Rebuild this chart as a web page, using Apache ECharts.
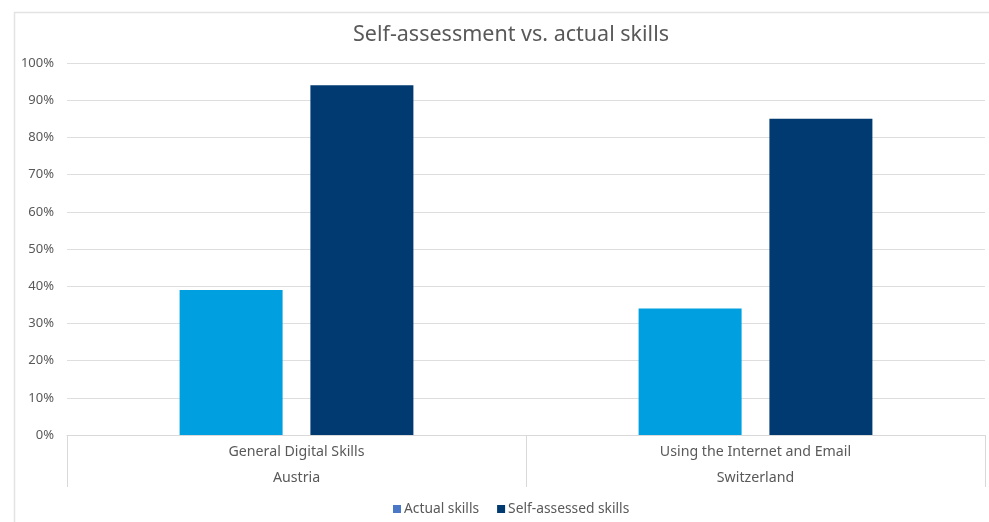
<!DOCTYPE html>
<html>
<head>
<meta charset="utf-8">
<script src="https://cdn.jsdelivr.net/npm/echarts@6/dist/echarts.min.js"></script>
<style>
html,body{margin:0;padding:0;background:#fff;}
#chart{width:989px;height:522px;}
</style>
</head>
<body>
<div id="chart"></div>
<script>
var skills = ['General Digital Skills', 'Using the Internet and Email'];
var countries = ['Austria', 'Switzerland'];
var actualSkills = [39, 34];
var selfAssessed = [94, 85];
var yTicks = [0, 10, 20, 30, 40, 50, 60, 70, 80, 90, 100];

var categories = skills.map(function (s, i) { return s + '\n' + countries[i]; });
var FONT = 'Noto Sans';
var chart = echarts.init(document.getElementById('chart'), null, {renderer: 'canvas'});
chart.setOption({
  backgroundColor: '#ffffff',
  animation: false,
  textStyle: {fontFamily: FONT},
  graphic: [{
    type: 'rect', left: 12, top: 10, silent: true,
    shape: {width: 990, height: 530},
    style: {fill: 'none', stroke: '#e3e3e3', lineWidth: 1.5}
  }],
  title: {
    text: 'Self-assessment vs. actual skills',
    left: 506, top: 19, textAlign: 'center',
    textStyle: {fontFamily: FONT, fontSize: 21.5, fontWeight: 'normal', color: '#595959'}
  },
  legend: {
    left: 388, top: 497,
    itemWidth: 8, itemHeight: 8, itemGap: 18,
    icon: 'rect',
    textStyle: {fontFamily: FONT, fontSize: 13.8, color: '#595959', padding: [0, 0, 0, -2]},
    data: [
      {name: 'Actual skills', itemStyle: {color: '#4a78c6'}},
      {name: 'Self-assessed skills', itemStyle: {color: '#003a70'}}
    ]
  },
  grid: {left: 67, right: 4, top: 63, bottom: 87, containLabel: false},
  xAxis: {
    type: 'category',
    data: categories,
    axisLine: {lineStyle: {color: '#d9d9d9', width: 1}},
    axisTick: {show: true, interval: 0, length: 52, lineStyle: {color: '#d9d9d9'}},
    axisLabel: {interval: 0, margin: 4, lineHeight: 26, fontSize: 14.2, color: '#595959', fontFamily: FONT}
  },
  yAxis: {
    type: 'value', min: yTicks[0], max: yTicks[yTicks.length - 1], interval: 10,
    axisLine: {show: false}, axisTick: {show: false},
    axisLabel: {formatter: '{value}%', fontSize: 13, color: '#595959', margin: 13, fontFamily: FONT},
    splitLine: {lineStyle: {color: '#dedede', width: 1}}
  },
  series: [
    {name: 'Actual skills', type: 'bar', data: actualSkills, barWidth: 103, barGap: '27%',
     itemStyle: {color: '#009fdf'}},
    {name: 'Self-assessed skills', type: 'bar', data: selfAssessed, barWidth: 103,
     itemStyle: {color: '#003a70'}}
  ]
});
</script>
</body>
</html>
